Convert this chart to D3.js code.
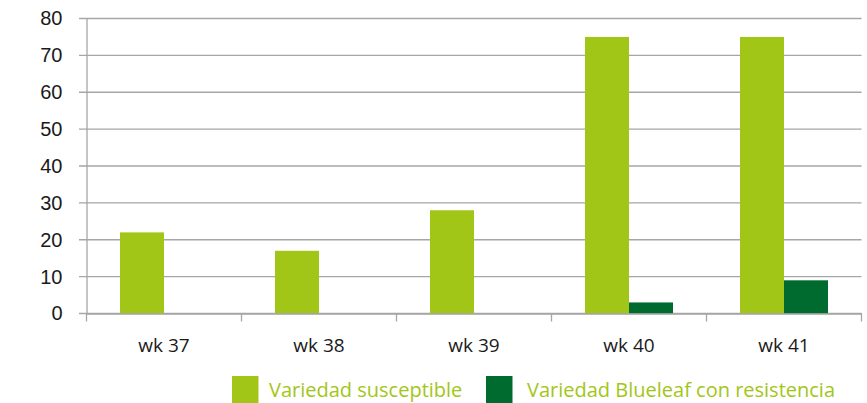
<!DOCTYPE html>
<html><head><meta charset="utf-8">
<script src="https://cdn.jsdelivr.net/npm/d3@7"></script>
<style>body{margin:0;background:#fff}svg{display:block}</style>
</head><body>
<svg id="c" width="867" height="403"></svg>
<script>
const categories = ["wk 37","wk 38","wk 39","wk 40","wk 41"];
const seriesNames = ["Variedad susceptible","Variedad Blueleaf con resistencia"];
const susceptible = [22,17,28,75,75];
const resistant = [0,0,0,3,9];
const yTicks = [0,10,20,30,40,50,60,70,80];
const colors = ["#a2c617","#006b2e"];

const svg = d3.select("#c");
const mLeft = 86.5, mRight = 861.5, mTop = 18.5, mBottom = 313.5;
const x = d3.scaleBand().domain(categories).range([mLeft,mRight]).paddingInner(0).paddingOuter(0);
const y = d3.scaleLinear().domain([0,80]).range([mBottom,mTop]);
const inner = d3.scaleBand().domain(seriesNames).range([33.5, x.bandwidth()-33.5]);

// grid
svg.append("g").selectAll("line").data(yTicks).join("line")
  .attr("x1",79).attr("x2",mRight).attr("y1",d=>y(d)).attr("y2",d=>y(d))
  .attr("stroke","#a6a6a6").attr("stroke-width",1.3);

// y axis
const ya = svg.append("g").attr("transform",`translate(${mLeft},0)`)
  .call(d3.axisLeft(y).tickValues(yTicks).tickSize(0).tickPadding(24));
ya.select(".domain").attr("stroke","#a6a6a6").attr("stroke-width",1.3);
ya.selectAll("text").attr("font-family","Liberation Sans, Arial, sans-serif").attr("font-size",20).attr("fill","#1a1a1a");

// bars
const data = categories.map((c,i)=>({c, vals:[susceptible[i],resistant[i]]}));
const g = svg.append("g");
data.forEach(d=>{
  d.vals.forEach((v,j)=>{
    if(v<=0) return;
    g.append("rect").attr("x",x(d.c)+inner(seriesNames[j])).attr("width",inner.bandwidth())
      .attr("y",y(v)).attr("height",y(0)-y(v)).attr("fill",colors[j]);
  });
});

// x axis
const xa = svg.append("g").attr("transform",`translate(0,${mBottom})`)
  .call(d3.axisBottom(x).tickSize(0).tickPadding(25));
xa.select(".domain").attr("stroke","#a6a6a6").attr("stroke-width",1.3);
xa.selectAll("text").attr("font-family","Open Sans, sans-serif").attr("font-size",19).attr("fill","#1a1a1a");
// category boundary ticks
const bounds = categories.map(c=>x(c)).concat([mRight]);
svg.append("g").selectAll("line").data(bounds).join("line")
  .attr("x1",d=>d).attr("x2",d=>d).attr("y1",mBottom).attr("y2",mBottom+8)
  .attr("stroke","#a6a6a6").attr("stroke-width",1.3);

// legend
const legX = [232, 486];
const legTextX = [269, 527];
seriesNames.forEach((s,j)=>{
  svg.append("rect").attr("x",legX[j]).attr("y",376).attr("width",26.5).attr("height",27).attr("fill",colors[j]);
  svg.append("text").attr("x",legTextX[j]).attr("y",397).text(s)
    .attr("font-family","Open Sans, sans-serif").attr("font-size",20).attr("fill","#a2c617");
});
</script>
</body></html>
